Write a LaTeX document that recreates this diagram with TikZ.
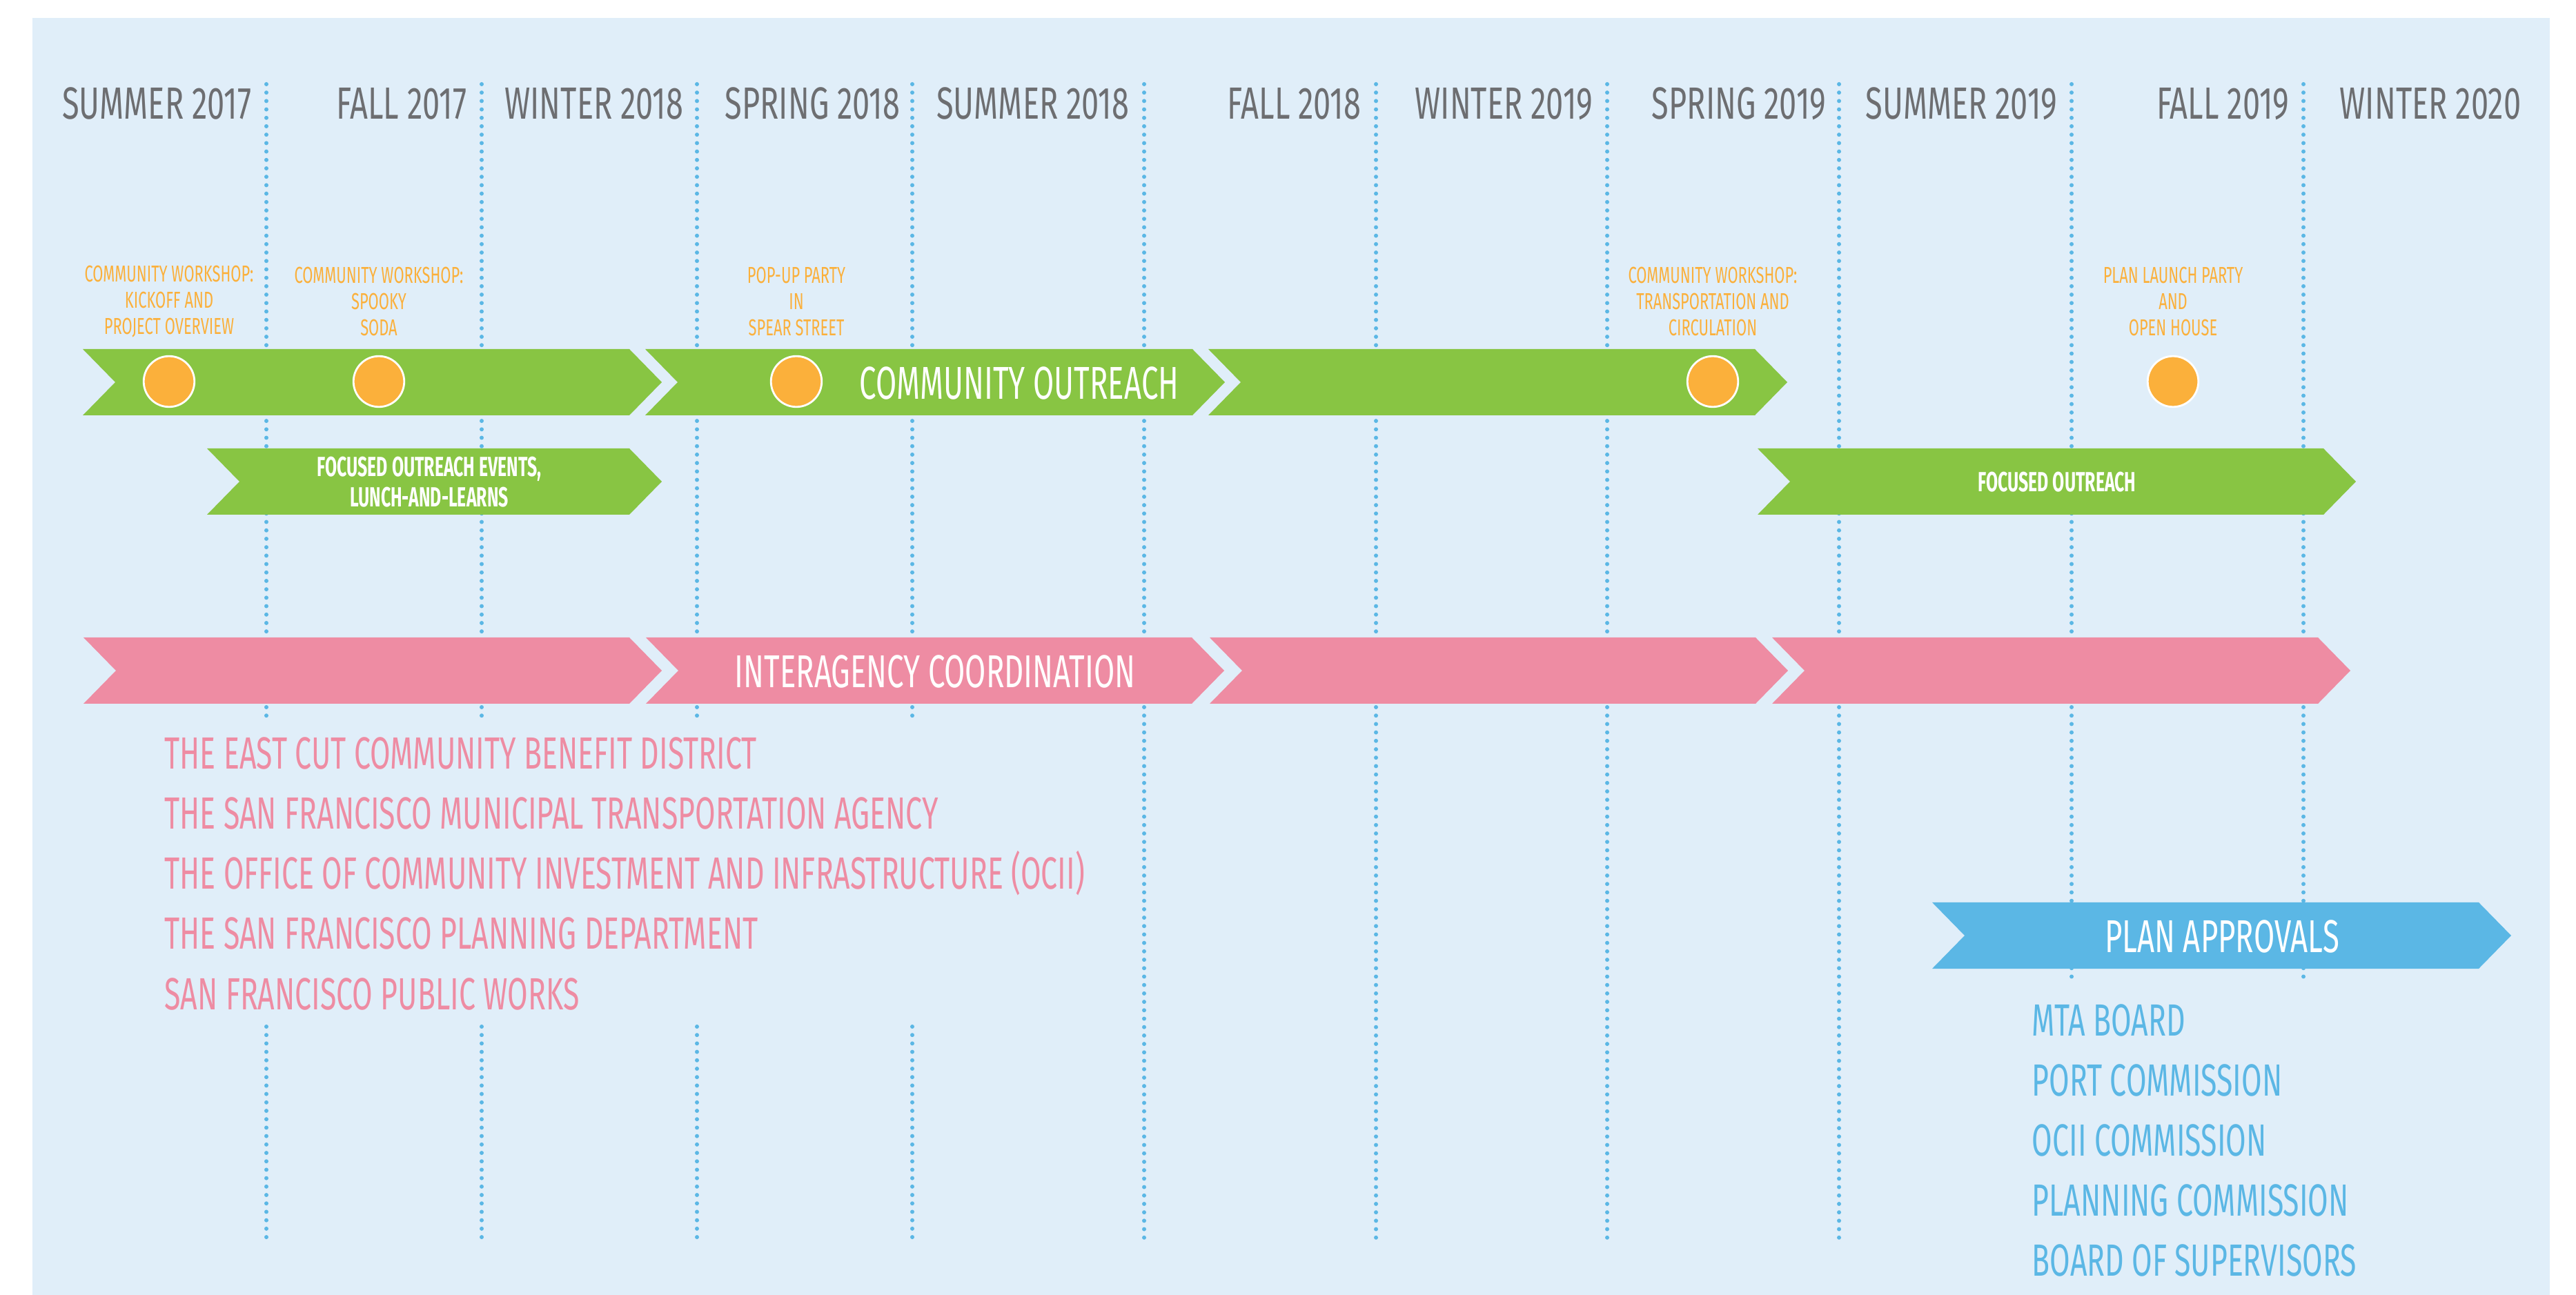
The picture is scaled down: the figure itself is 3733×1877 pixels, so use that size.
\documentclass[tikz,border=0pt]{standalone}
\usepackage{fontspec}
\setmainfont{Fira Sans}[FakeStretch=0.655]
\newfontfamily\seasonfont{Fira Sans}[FakeStretch=0.69]
\newfontfamily\heavyfont{Fira Sans}[FakeStretch=0.62]
\usepackage{tikz}
\definecolor{bgblue}{HTML}{E0EEF9}
\definecolor{dotblue}{HTML}{5BB7E5}
\definecolor{headgrey}{HTML}{6D6E71}
\definecolor{eventorange}{HTML}{FBB03B}
\definecolor{outreachgreen}{HTML}{88C543}
\definecolor{agencypink}{HTML}{EE8CA3}
\definecolor{approvalblue}{HTML}{5BB7E5}

\begin{document}
\begin{tikzpicture}[x=0.01cm,y=-0.01cm,
  season/.style={anchor=base east,inner sep=0pt,text=headgrey,font=\seasonfont\fontsize{18.6}{22}\selectfont},
  event/.style={align=center,inner sep=0pt,text=eventorange,font=\fontsize{9.5}{10.8}\selectfont},
  eventdot/.style={circle,fill=eventorange,draw=white,line width=0.8pt,minimum size=0.735cm,inner sep=0pt},
  banner/.style={anchor=base,inner sep=0pt,text=white,font=\fontsize{19}{22}\selectfont},
  boldbanner/.style={align=center,inner sep=0pt,text=white,font=\heavyfont\bfseries\fontsize{11.4}{12.5}\selectfont},
  agency/.style={anchor=base west,inner sep=0pt,text=agencypink,font=\fontsize{18.6}{22}\selectfont},
  approval/.style={anchor=base west,inner sep=0pt,text=approvalblue,font=\fontsize{18.6}{22}\selectfont},
  gridline/.style={dotblue,line width=1.7pt,line cap=round,dash pattern=on 0pt off 3.47pt}]
\useasboundingbox (0,0) rectangle (3733,1877);
\fill[bgblue] (47,26) rectangle (3695,1877);

% season separators
\foreach \x in {386,698,1010,1322} {
  \draw[gridline] (\x,122) -- (\x,1040);
  \draw[gridline] (\x,1488) -- (\x,1798);
}
\foreach \x in {1658,1994,2329,2665} \draw[gridline] (\x,122) -- (\x,1798);
\foreach \x in {3002,3338} \draw[gridline] (\x,122) -- (\x,1427);

% seasons
\node[season] (summer17) at (365,173) {SUMMER 2017};
\node[season] (fall17) at (677,173) {FALL 2017};
\node[season] (winter18) at (991,173) {WINTER 2018};
\node[season] (spring18) at (1305,173) {SPRING 2018};
\node[season] (summer18) at (1637,173) {SUMMER 2018};
\node[season] (fall18) at (1973,173) {FALL 2018};
\node[season] (winter19) at (2309,173) {WINTER 2019};
\node[season] (spring19) at (2647,173) {SPRING 2019};
\node[season] (summer19) at (2982,173) {SUMMER 2019};
\node[season] (fall19) at (3318,173) {FALL 2019};
\node[season] (winter20) at (3654,173) {WINTER 2020};

% chevrons: start/tip/middle/colour
\foreach \xa/\xb/\yc/\col in {120/959/554/outreachgreen,935/1775/554/outreachgreen,1751/2590/554/outreachgreen,
    300/959/698/outreachgreen,2547/3414/698/outreachgreen,
    121/959/972/agencypink,936/1774/972/agencypink,1753/2591/972/agencypink,2568/3406/972/agencypink,
    2800/3639/1356/approvalblue}
  \fill[\col] (\xa,\yc-48) -- (\xb-47,\yc-48) -- (\xb,\yc) -- (\xb-47,\yc+48) -- (\xa,\yc+48) -- (\xa+47,\yc) -- cycle;

% events
\node[event] (kickoff) at (245,437) {COMMUNITY WORKSHOP:\\KICKOFF AND\\PROJECT OVERVIEW};
\node[event] (spooky) at (549,437) {COMMUNITY WORKSHOP:\\SPOOKY\\SODA};
\node[event] (popup) at (1154,437) {POP-UP PARTY\\IN\\SPEAR STREET};
\node[event] (transport) at (2482,437) {COMMUNITY WORKSHOP:\\TRANSPORTATION AND\\CIRCULATION};
\node[event] (launch) at (3149,437) {PLAN LAUNCH PARTY\\AND\\OPEN HOUSE};
\node[eventdot] (kickoffdot) at (245,553) {};
\node[eventdot] (spookydot) at (549,553) {};
\node[eventdot] (popupdot) at (1154,553) {};
\node[eventdot] (transportdot) at (2482,553) {};
\node[eventdot] (launchdot) at (3149,553) {};

% bands
\node[banner] (outreach) at (1477,579) {COMMUNITY OUTREACH};
\node[boldbanner] (lunch) at (622,699) {FOCUSED OUTREACH EVENTS,\\LUNCH-AND-LEARNS};
\node[boldbanner] (focused) at (2981,699) {FOCUSED OUTREACH};
\node[banner] (interagency) at (1355,997) {INTERAGENCY COORDINATION};
\node[banner] (approvals) at (3220,1380) {PLAN APPROVALS};

% agencies
\node[agency] (cbd) at (238,1115) {THE EAST CUT COMMUNITY BENEFIT DISTRICT};
\node[agency] (sfmta) at (238,1202) {THE SAN FRANCISCO MUNICIPAL TRANSPORTATION AGENCY};
\node[agency] (ocii) at (238,1289) {THE OFFICE OF COMMUNITY INVESTMENT AND INFRASTRUCTURE (OCII)};
\node[agency] (planning) at (238,1376) {THE SAN FRANCISCO PLANNING DEPARTMENT};
\node[agency] (works) at (238,1463) {SAN FRANCISCO PUBLIC WORKS};

% approvals
\node[approval] (mta) at (2944,1501) {MTA BOARD};
\node[approval] (port) at (2944,1588) {PORT COMMISSION};
\node[approval] (ociicom) at (2944,1675) {OCII COMMISSION};
\node[approval] (plancom) at (2944,1762) {PLANNING COMMISSION};
\node[approval] (supervisors) at (2944,1849) {BOARD OF SUPERVISORS};
\end{tikzpicture}
\end{document}
